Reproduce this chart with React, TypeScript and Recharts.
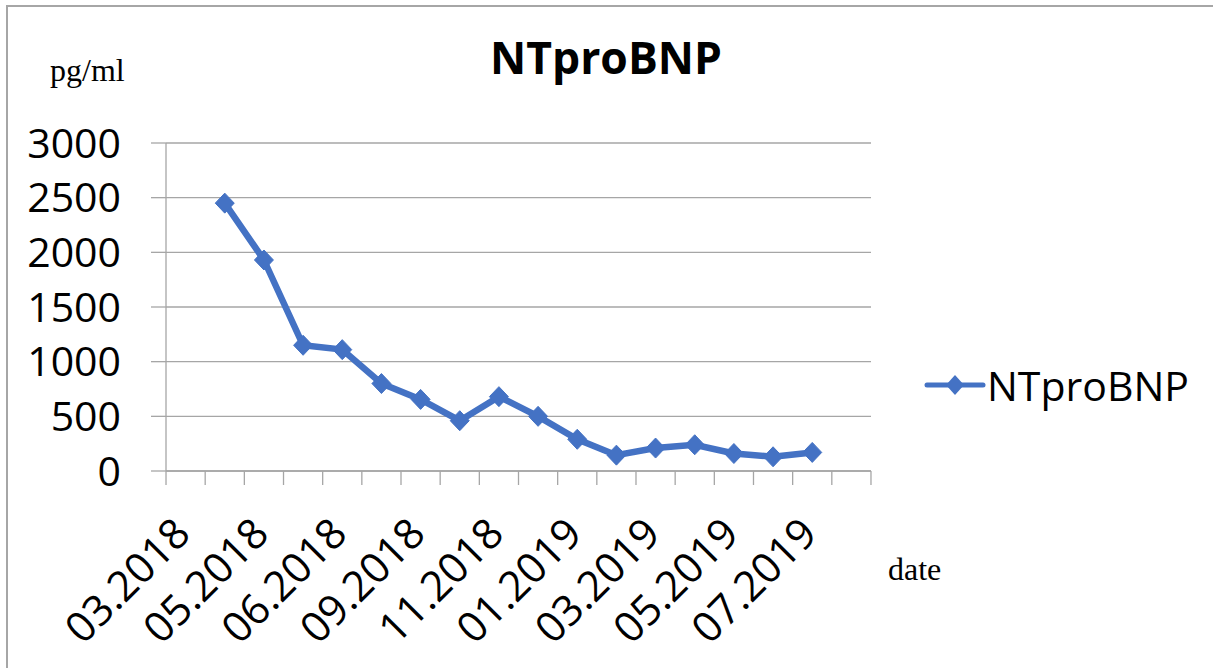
import React from 'react';
import { LineChart, Line, XAxis, YAxis, CartesianGrid, Legend } from 'recharts';

const categories = [
  '03.2018', '04.2018', '05.2018', '05.2018', '06.2018', '07.2018',
  '09.2018', '10.2018', '11.2018', '12.2018', '01.2019', '02.2019',
  '03.2019', '04.2019', '05.2019', '06.2019', '07.2019', '08.2019',
];
const values: (number | null)[] = [
  null, 2450, 1930, 1150, 1110, 800, 655, 460, 680, 500, 290, 145, 210, 240, 160, 130, 170, null,
];
const yTicks = [0, 500, 1000, 1500, 2000, 2500, 3000];
const seriesName = 'NTproBNP';

const data = categories.map((date, i) => ({ date, [seriesName]: values[i] }));

const GRID = '#a6a6a6';
const BLUE = '#4472c4';
const SANS = '"Open Sans", sans-serif';
const SERIF = '"Liberation Serif", "Times New Roman", serif';

const Diamond = (props: any) => {
  const { cx, cy, index } = props;
  if (cx == null || cy == null || isNaN(cx) || isNaN(cy)) return <g key={`d${index}`} />;
  return (
    <path
      key={`d${index}`}
      d={`M${cx},${cy - 10} L${cx + 9.5},${cy} L${cx},${cy + 10} L${cx - 9.5},${cy} Z`}
      fill={BLUE}
      stroke={BLUE}
      strokeWidth={1}
    />
  );
};

const XTick = (props: any) => {
  const { x, y, payload, index, width, visibleTicksCount } = props;
  const half = width / visibleTicksCount / 2;
  const last = index === visibleTicksCount - 1;
  return (
    <g>
      <line x1={x - half} y1={y} x2={x - half} y2={y + 14} stroke={GRID} strokeWidth={1.3} />
      {last && <line x1={x + half} y1={y} x2={x + half} y2={y + 14} stroke={GRID} strokeWidth={1.3} />}
      {index % 2 === 0 && (
        <g transform={`translate(${x + 7},${y + 65})`}>
          <text transform="rotate(-45)" textAnchor="end" fontFamily={SANS} fontSize={42} fill="#000">
            {payload.value}
          </text>
        </g>
      )}
    </g>
  );
};

const LegendContent = () => (
  <svg width={290} height={60}>
    <line x1={7} y1={30} x2={63} y2={30} stroke={BLUE} strokeWidth={5} strokeLinecap="round" />
    <path d="M35,20 L44,30 L35,40 L26,30 Z" fill={BLUE} />
    <text x={67} y={46} fontFamily={SANS} fontSize={41} fill="#000">
      {seriesName}
    </text>
  </svg>
);

export default function App() {
  return (
    <div
      style={{
        position: 'absolute',
        left: 0,
        top: 0,
        width: 1213,
        height: 668,
        overflow: 'hidden',
        background: '#fff',
      }}
    >
      <div
        style={{
          position: 'absolute',
          left: 6,
          top: 5,
          width: 1240,
          height: 700,
          border: '2px solid #a6a6a6',
        }}
      />
      <div style={{ position: 'absolute', left: 0, top: 0 }}>
        <LineChart
          width={1213}
          height={668}
          data={data}
          margin={{ top: 143, right: 342, bottom: 0, left: 66 }}
        >
          <CartesianGrid horizontal vertical={false} stroke={GRID} strokeWidth={1.3} />
          <XAxis
            dataKey="date"
            height={197}
            interval={0}
            padding={{ left: 19.6, right: 19.6 }}
            axisLine={{ stroke: GRID, strokeWidth: 1.3 }}
            tickLine={false}
            tickSize={0}
            tickMargin={0}
            tick={<XTick />}
          />
          <YAxis
            domain={[0, 3000]}
            ticks={yTicks}
            width={100}
            interval={0}
            tickSize={15}
            tickMargin={30}
            axisLine={{ stroke: GRID, strokeWidth: 1.3 }}
            tickLine={{ stroke: GRID, strokeWidth: 1.3 }}
            tick={{ fontFamily: SANS, fontSize: 41, fill: '#000' }}
          />
          <Legend
            layout="horizontal"
            verticalAlign="middle"
            align="center"
            content={<LegendContent />}
            wrapperStyle={{ left: 920, top: 355, width: 290, height: 60 }}
          />
          <Line
            type="linear"
            dataKey={seriesName}
            stroke={BLUE}
            strokeWidth={6.5}
            dot={<Diamond />}
            activeDot={false}
            isAnimationActive={false}
          />
          <text
            x={606}
            y={74}
            textAnchor="middle"
            fontFamily={SANS}
            fontWeight="bold"
            fontSize={44.5}
            fill="#000"
          >
            NTproBNP
          </text>
          <text x={50} y={81} fontFamily={SERIF} fontSize={32} fill="#000">
            pg/ml
          </text>
          <text x={888} y={580} fontFamily={SERIF} fontSize={32} fill="#000">
            date
          </text>
        </LineChart>
      </div>
    </div>
  );
}
